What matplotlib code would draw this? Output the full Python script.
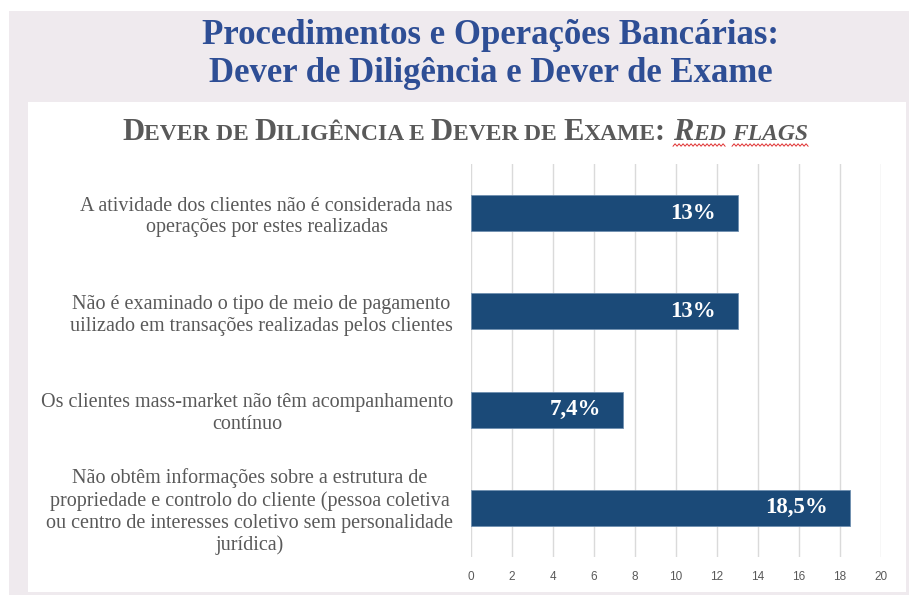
import matplotlib
matplotlib.use("Agg")
import matplotlib.pyplot as plt
from matplotlib.patches import Rectangle
from matplotlib.lines import Line2D
from matplotlib.transforms import IdentityTransform

# ---- data ----
categories = [
    "A atividade dos clientes não é considerada nas\noperações por estes realizadas",
    "Não é examinado o tipo de meio de pagamento\nuilizado em transações realizadas pelos clientes",
    "Os clientes mass-market não têm acompanhamento\ncontínuo",
    "Não obtêm informações sobre a estrutura de\npropriedade e controlo do cliente (pessoa coletiva\nou centro de interesses coletivo sem personalidade\njurídica)",
]
values = [13, 13, 7.4, 18.5]
value_labels = ["13%", "13%", "7,4%", "18,5%"]
xticks = [0, 2, 4, 6, 8, 10, 12, 14, 16, 18, 20]
title_lines = ["Procedimentos e Operações Bancárias:", "Dever de Diligência e Dever de Exame"]

SERIF = ["Liberation Serif", "DejaVu Serif"]
W, H = 909, 595
fig = plt.figure(figsize=(W / 100, H / 100), dpi=100)
fig.patch.set_facecolor("white")

# background panels
fig.add_artist(Rectangle((9 / W, 0), 1 - 9 / W, 1 - 11 / H, transform=fig.transFigure,
                         facecolor="#EFEAEE", edgecolor="none", zorder=-10))
fig.add_artist(Rectangle((28 / W, 3 / H), (906 - 28) / W, (592 - 102) / H,
                         transform=fig.transFigure, facecolor="white", edgecolor="none", zorder=-9))

# main title
fig.text(490 / W, 1 - 35 / H, title_lines[0], ha="center", va="center", family=SERIF,
         fontsize=25, fontweight="bold", color="#2E4E95")
fig.text(491 / W, 1 - 74 / H, title_lines[1], ha="center", va="center", family=SERIF,
         fontsize=25, fontweight="bold", color="#2E4E95")

# axes
ax = fig.add_axes([471 / W, 1 - 557 / H, (881 - 471) / W, (557 - 164) / H])
ax.set_facecolor("none")
y = list(range(len(categories)))
ax.barh(y, values, height=0.366, color="#1B4A78", edgecolor="#6F8FB0", linewidth=0.6, zorder=3)
ax.set_xlim(0, 20)
ax.set_ylim(len(categories) - 0.5, -0.5)
ax.set_xticks(xticks)
ax.set_xticklabels([str(t) for t in xticks], family=["Liberation Sans"], fontsize=8.5, color="#595959")
ax.set_yticks(y)
ax.set_yticklabels(categories, family=SERIF, fontsize=14.5, color="#595959",
                   multialignment="center", linespacing=1.2)
ax.tick_params(axis="x", length=0, pad=10)
ax.tick_params(axis="y", length=0, pad=13)
ax.grid(axis="x", color="#DADADA", linewidth=1.0, zorder=0)
for s in ax.spines.values():
    s.set_visible(False)

for yi, v, lab in zip(y, values, value_labels):
    ax.annotate(lab, xy=(v, yi), xytext=(-22, 0), textcoords="offset pixels", ha="right",
                va="center", family=SERIF, fontsize=16.5, fontweight="bold", color="white", zorder=4)

# subtitle in small caps
renderer = fig.canvas.get_renderer()
big, small = 22, 17
pieces = [
    ("D", big, "normal"), ("EVER ", small, "normal"), ("DE ", small, "normal"),
    ("D", big, "normal"), ("ILIGÊNCIA ", small, "normal"), ("E ", small, "normal"),
    ("D", big, "normal"), ("EVER ", small, "normal"), ("DE ", small, "normal"),
    ("E", big, "normal"), ("XAME", small, "normal"), (": ", big, "normal"),
    ("R", big, "italic"), ("ED ", small, "italic"), ("FLAGS", small, "italic"),
]
base_y = 1 - 140 / H
texts = []
xcur = 0.0
for s, sz, st in pieces:
    t = fig.text(xcur / W, base_y, s, ha="left", va="baseline", family=SERIF, fontsize=sz,
                 fontweight="bold", fontstyle=st, color="#595959")
    bb = t.get_window_extent(renderer)
    texts.append((t, xcur, bb.width))
    xcur += bb.width
total = xcur
start = 465 - total / 2
for t, x0, w in texts:
    t.set_x((start + x0) / W)

# red wavy underline under the italic words
fig.canvas.draw()
for idx_group in [(12, 13), (14,)]:
    xs0 = min(texts[i][0].get_window_extent(renderer).x0 for i in idx_group)
    xs1 = max(texts[i][0].get_window_extent(renderer).x1 for i in idx_group)
    if idx_group == (12, 13):
        xs1 -= 6
    ybase = base_y * H - 5
    pts_x, pts_y = [], []
    xx = xs0
    k = 0
    while xx <= xs1:
        pts_x.append(xx)
        pts_y.append(ybase + (1.2 if k % 2 else -1.2))
        xx += 2
        k += 1
    fig.add_artist(Line2D(pts_x, pts_y, transform=IdentityTransform(), color="#E03030", linewidth=0.7))

fig.savefig("out.png", dpi=100, facecolor=fig.get_facecolor())
